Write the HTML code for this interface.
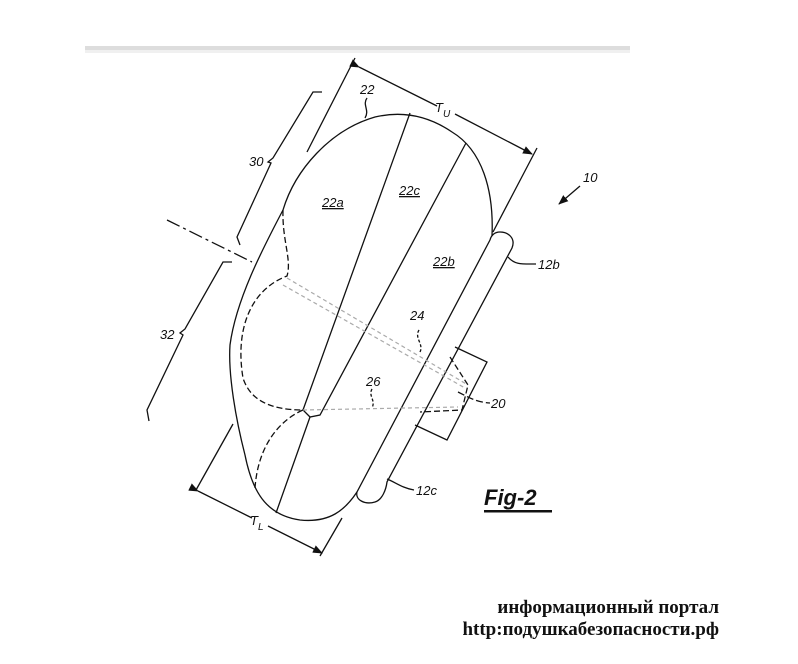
<!DOCTYPE html>
<html><head><meta charset="utf-8"><style>
html,body{margin:0;padding:0;background:#fff;width:798px;height:664px;overflow:hidden}
svg{position:absolute;left:0;top:0}
.t{font-family:"Liberation Sans",sans-serif;font-style:italic;font-size:13px;fill:#111}
.ru{position:absolute;right:79px;font-family:"Liberation Serif","Noto Serif CJK SC",serif;font-weight:bold;font-size:19px;color:#111;text-align:right;white-space:nowrap;line-height:22px}
</style></head><body>
<svg width="798" height="664" viewBox="0 0 798 664">
<defs><marker id="a" markerWidth="10" markerHeight="8" refX="9" refY="4" orient="auto" markerUnits="userSpaceOnUse"><path d="M0,0 L10,4 L0,8 z" fill="#111"/></marker></defs>
<rect x="85" y="46" width="545" height="4" fill="#ddd"/>
<rect x="85" y="50" width="545" height="3" fill="#f0f0f0"/>
<g fill="none" stroke="#111" stroke-width="1.3">
<path d="M492,236 C494,190 482,150 452,132 C430,117 405,110 375,117 C330,130 295,170 283,210 C262,250 236,300 230,345 C228,375 236,420 245,455 C252,490 265,515 300,520 C330,523 345,510 357,492"/>
<path d="M410,113 L303,410 L310,417 L320,415 L466,143"/>
<path d="M310,417 L276,513"/>
<path d="M490,240 L357,492 C355,500 365,505 375,502 C382,500 386,490 387,482 L512,248 C516,238 508,232 500,232 C494,232 491,236 490,240"/>
<path d="M455,347 L487,362 L447,440 L415,425"/>
<path d="M355,58 L307,152"/><path d="M537,148 L493,232"/>
<path d="M359,67 L437,106" marker-start="url(#a)"/><path d="M455,114 L532,154" marker-end="url(#a)"/>
<path d="M233,424 L196,490"/><path d="M342,518 L320,556"/>
<path d="M198,491 L252,518" marker-start="url(#a)"/><path d="M268,526 L322,553" marker-end="url(#a)"/>
<path d="M322,92 L313,92 L273,158 L268,162 L271,163 L237,237 L240,245"/>
<path d="M232,262 L223,262 L185,329 L180,333 L183,335 L147,410 L149,421"/>
<path d="M167,220 L252,262" stroke-dasharray="14,4,3,4"/>
<path d="M367,98 C362,105 370,110 365,118"/>
<path d="M419,330 C414,338 424,344 420,352" stroke-dasharray="3,2"/>
<path d="M372,389 C368,396 376,400 372,408" stroke-dasharray="3,2"/>
<path d="M508,257 C515,265 522,264 536,264"/>
<path d="M387,479 C395,482 402,488 414,490"/>
<path d="M458,392 C470,398 476,402 490,403" stroke-dasharray="7,3"/>
<path d="M580,186 L559,204" marker-end="url(#a)"/>
<path d="M283,210 C282,240 292,260 287,276 C250,290 235,330 243,378 C250,400 270,410 303,410 C280,420 258,445 255,488" stroke-dasharray="6,3"/>
<path d="M450,357 L468,385 L462,410 L420,412" stroke-dasharray="6,3"/>
</g>
<g fill="none" stroke="#aaa" stroke-width="1.2" stroke-dasharray="4,3">
<path d="M287,278 L468,385"/><path d="M283,285 L465,388"/>
<path d="M303,410 L458,407"/>
</g>
<g class="t">
<text x="360" y="94">22</text>
<text x="435" y="112">T</text><text x="443" y="117" font-size="10">U</text>
<text x="250" y="525">T</text><text x="258" y="530" font-size="10">L</text>
<text x="249" y="166">30</text>
<text x="160" y="339">32</text>
<text x="322" y="207" text-decoration="underline">22a</text>
<text x="399" y="195" text-decoration="underline">22c</text>
<text x="433" y="266" text-decoration="underline">22b</text>
<text x="410" y="320">24</text>
<text x="366" y="386">26</text>
<text x="491" y="408">20</text>
<text x="538" y="269">12b</text>
<text x="416" y="495">12c</text>
<text x="583" y="182">10</text>
</g>
<text x="484" y="505" font-family="Liberation Sans,sans-serif" font-style="italic" font-weight="bold" font-size="22" fill="#111">Fig-2</text>
<rect x="484" y="510" width="68" height="2.5" fill="#111"/>
</svg>
<div class="ru" style="top:597px">информационный портал</div>
<div class="ru" style="top:619px">http:подушкабезопасности.рф</div>
</body></html>
